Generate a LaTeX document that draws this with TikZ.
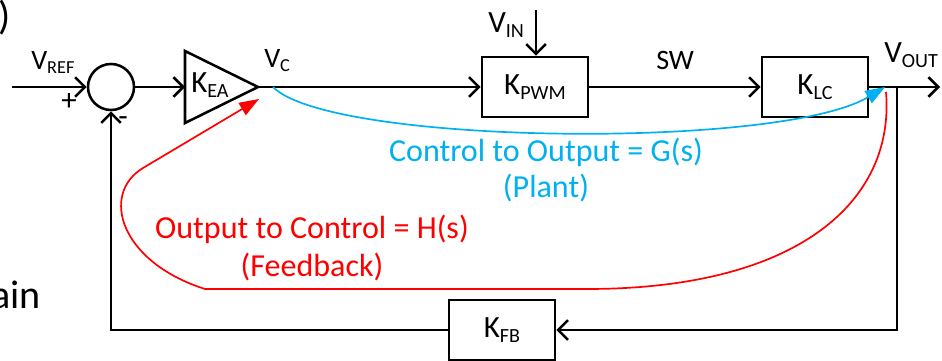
\documentclass[tikz,border=0pt]{standalone}
\usepackage{fontspec}
\setmainfont{Carlito}
\usepackage{graphicx}
\usetikzlibrary{positioning,arrows.meta,calc}
\definecolor{plantblue}{RGB}{0,176,240}
\definecolor{fbred}{RGB}{255,0,0}
\newcommand{\lsub}[1]{\raisebox{-0.14em}{\scalebox{0.65}{#1}}}

\begin{document}
\begin{tikzpicture}[x=0.025cm, y=-0.025cm, line width=1.8pt,
    >={Straight Barb[length=7pt,width=14pt]},
    blockbox/.style={draw, rectangle, minimum width=2.65cm, minimum height=1.5cm, inner sep=0pt, font=\fontsize{22pt}{26pt}\selectfont},
    sig/.style={anchor=base west, inner sep=0pt, font=\fontsize{20pt}{24pt}\selectfont},
    bigsig/.style={sig, font=\fontsize{22pt}{26pt}\selectfont},
    tf/.style={line width=1.2pt, line join=round, -{Triangle[length=14pt,width=10pt]}},
    tflabel/.style={align=center, inner sep=0pt}]
    \useasboundingbox (0,0) rectangle (942,361);

    % Cut-off text of the slide
    \node[anchor=base east, inner sep=0pt, font=\fontsize{28.5pt}{34pt}\selectfont] (paren) at (12,30) {)};
    \node[anchor=base east, inner sep=0pt, font=\fontsize{28.5pt}{34pt}\selectfont] (ain) at (42,308) {ain};

    % Summing junction
    \node[draw, circle, minimum size=1.15cm, inner sep=0pt] (sum) at (111,87) {};
    \node[font=\fontsize{22pt}{26pt}\selectfont, inner sep=0pt] (plus) at (69,102) {+};
    \node[font=\fontsize{22pt}{26pt}\selectfont, inner sep=0pt] (minus) at (123,122) {-};

    % Error amplifier
    \draw[line join=miter] (185,51) -- (258,87) -- (185,123) -- cycle;
    \coordinate (ea-in) at (185,87);
    \coordinate (ea-out) at (258,87);
    \node[bigsig] (kea) at (190,93) {K\lsub{EA}};

    % Blocks
    \node[blockbox] (pwm) at (535,87) {K\lsub{PWM}};
    \node[blockbox] (lc) at (815,87) {K\lsub{LC}};
    \node[blockbox] (fb) at (502,330) {K\lsub{FB}};

    % Signals
    \coordinate (ref) at (12,87);
    \coordinate (vin) at (536,10);
    \coordinate (out) at (940,87);
    \coordinate (jn) at (897,87);
    \node[sig] (vref-l) at (30,70) {V\lsub{REF}};
    \node[sig] (vc-l) at (263,68) {V\lsub{C}};
    \node[bigsig] (vin-l) at (487,33) {V\lsub{IN}};
    \node[sig] (sw-l) at (655,70) {SW};
    \node[bigsig] (vout-l) at (883,63) {V\lsub{OUT}};

    % Arrows
    \draw[->] (ref) -- (sum.west);
    \draw[->] (sum.east) -- (ea-in);
    \draw[->] (ea-out) -- (pwm.west);
    \draw[->] (vin) -- (vin |- pwm.north);
    \draw[->] (pwm.east) -- (lc.west);
    \draw[->] (lc.east) -- (out);
    \draw[->] (jn) |- (fb.east);
    \draw[->] (fb.west) -| (sum.south);

    % Control to output
    \coordinate (g-start) at (273,87);
    \coordinate (g-end) at (885,87);
    \draw[tf, plantblue] (g-start) .. controls (330,145) and (780,150) .. (g-end);
    \node[tflabel, text=plantblue, font=\fontsize{22.8pt}{24.9pt}\selectfont] (g-l) at (546,170) {Control to Output = G(s)\\(Plant)};

    % Output to control
    \coordinate (h-start) at (886,92);
    \coordinate (h-end) at (259,99);
    \draw[tf, fbred] (h-start) .. controls (895,200) and (800,289) .. (587,289) -- (205,289)
        .. controls (120,262) and (100,194) .. (143,168) -- (h-end);
    \node[tflabel, text=fbred, font=\fontsize{22.8pt}{27pt}\selectfont] (h-l) at (312,248) {Output to Control = H(s)\\(Feedback)};

\end{tikzpicture}
\end{document}
